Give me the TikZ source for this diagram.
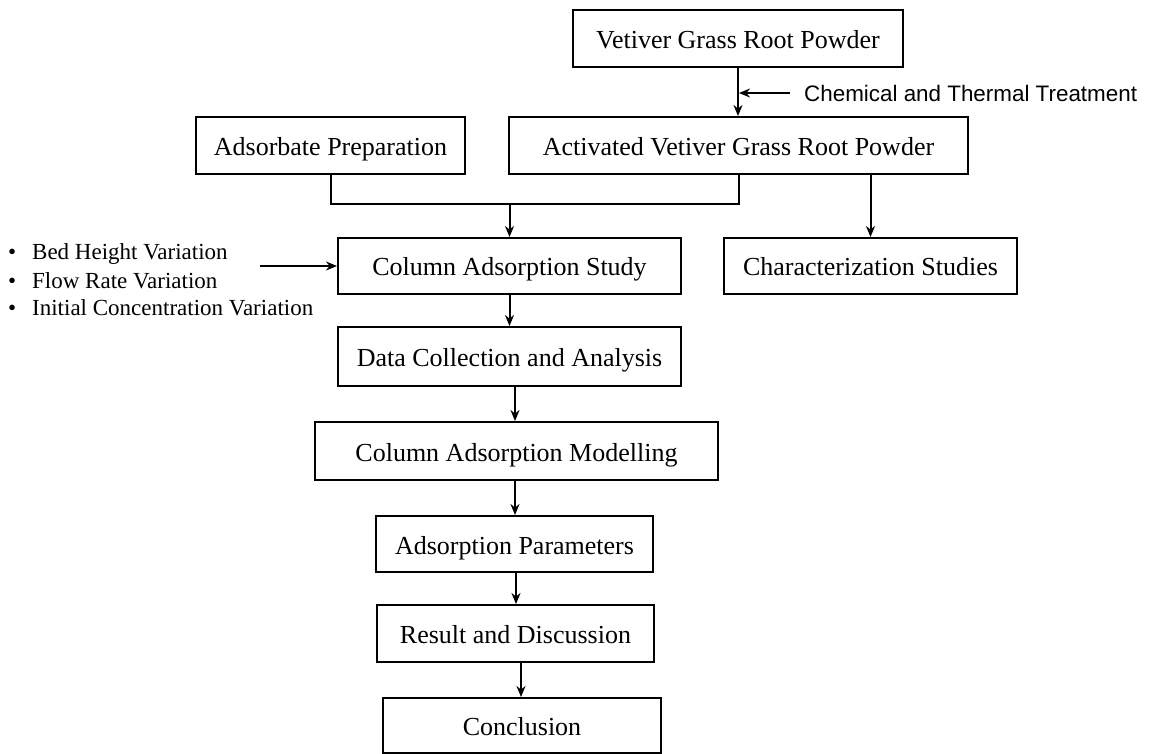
\documentclass[tikz,border=0pt]{standalone}
\usepackage{fontspec}
\setmainfont{Liberation Serif}
\newfontfamily\chemfont{Liberation Sans}
\usetikzlibrary{arrows.meta,calc}
\tikzset{
  box/.style={draw=black, line width=2pt, rectangle, inner sep=0pt, align=center,
    font=\fontsize{26}{30}\selectfont, text=black, text height=20pt, text depth=0pt},
  line/.style={draw=black, line width=2pt},
  arr/.style={line, -{Stealth[length=11pt,width=9pt]}},
  bullettext/.style={anchor=base west, inner sep=0pt, font=\fontsize{23}{27}\selectfont},
  chemtext/.style={anchor=west, inner sep=0pt, font=\chemfont\fontsize{22.4}{26}\selectfont}
}
\begin{document}
\begin{tikzpicture}[x=1pt,y=-1pt]
\useasboundingbox[fill=white] (0,0) rectangle (1149,754);

\node[box, minimum width=330pt, minimum height=57pt] (vgrp) at (738,38.5) {Vetiver Grass Root Powder};
\node[box, minimum width=269pt, minimum height=57pt] (adsprep) at (330.5,145.5) {Adsorbate Preparation};
\node[box, minimum width=459pt, minimum height=57pt] (avgrp) at (738.5,145.5) {Activated Vetiver Grass Root Powder};
\node[box, minimum width=343pt, minimum height=56pt] (cas) at (509.5,266) {Column Adsorption Study};
\node[box, minimum width=293pt, minimum height=56pt] (char) at (870.5,266) {Characterization Studies};
\node[box, minimum width=343pt, minimum height=59pt] (dca) at (509.5,356.5) {Data Collection and Analysis};
\node[box, minimum width=403pt, minimum height=58pt] (cam) at (516.5,451) {Column Adsorption Modelling};
\node[box, minimum width=277pt, minimum height=56pt] (ap) at (514.5,544) {Adsorption Parameters};
\node[box, minimum width=277pt, minimum height=57pt] (rd) at (515.5,633.5) {Result and Discussion};
\node[box, minimum width=278pt, minimum height=55pt] (concl) at (522,725.5) {Conclusion};

\node[chemtext] (chem) at (804,93) {Chemical and Thermal Treatment};

\node[bullettext] (b1) at (8,260) {\makebox[24pt][l]{\textbullet}Bed Height Variation};
\node[bullettext] (b2) at (8,288) {\makebox[24pt][l]{\textbullet}Flow Rate Variation};
\node[bullettext] (b3) at (8,316) {\makebox[24pt][l]{\textbullet}Initial Concentration Variation};

\coordinate (jn) at (509.5,204);
\coordinate (bs) at (260,266);

\draw[arr] (vgrp.south) -- (vgrp.south |- avgrp.north);
\draw[arr] ([xshift=-14pt]chem.west) -- ([xshift=1pt]vgrp.south |- chem.west);
\draw[line] (adsprep.south) |- (jn) -| (avgrp.south);
\draw[arr] (jn) -- (cas.north);
\draw[arr] (avgrp.south -| char.north) -- (char.north);
\draw[arr] (bs) -- (cas.west);
\draw[arr] (cas.south) -- (dca.north);
\draw[arr] ([xshift=5.5pt]dca.south) -- ([xshift=5.5pt]dca.south |- cam.north);
\draw[arr] ([xshift=-1.5pt]cam.south) -- ([xshift=-1.5pt]cam.south |- ap.north);
\draw[arr] ([xshift=1.5pt]ap.south) -- ([xshift=1.5pt]ap.south |- rd.north);
\draw[arr] ([xshift=5.5pt]rd.south) -- ([xshift=5.5pt]rd.south |- concl.north);
\end{tikzpicture}
\end{document}
